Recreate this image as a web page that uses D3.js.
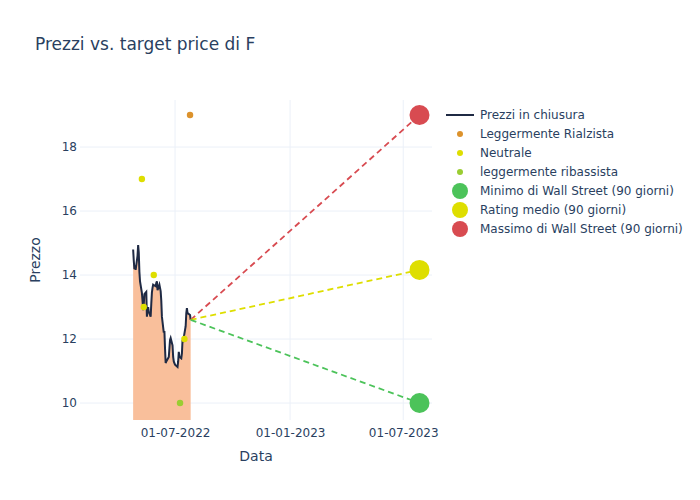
<!DOCTYPE html>
<html lang="it">
  <head>
    <meta charset="utf-8" />
    <style type="text/css">
      body {
        margin: 0;
        background: #fff;
      }
      svg text {
        font-family: "DejaVu Sans", verdana, arial, sans-serif;
        fill: #2a3f5f;
      }
    </style>
  </head>
  <body>
    <svg width="700" height="500"></svg>

    <script src="https://d3js.org/d3.v7.min.js"></script>
    <script type="text/javascript">
      // prezzi di chiusura (stimati dal grafico)
      var priceDates = [
        "2022-04-25", "2022-04-26", "2022-04-27", "2022-04-28", "2022-04-29",
        "2022-05-02", "2022-05-03", "2022-05-04", "2022-05-05", "2022-05-06",
        "2022-05-09", "2022-05-10", "2022-05-11", "2022-05-12", "2022-05-13",
        "2022-05-16", "2022-05-17", "2022-05-18", "2022-05-19", "2022-05-20",
        "2022-05-23", "2022-05-24", "2022-05-25", "2022-05-26", "2022-05-27",
        "2022-05-31", "2022-06-01", "2022-06-02", "2022-06-03", "2022-06-06",
        "2022-06-07", "2022-06-08", "2022-06-09", "2022-06-10", "2022-06-13",
        "2022-06-14", "2022-06-15", "2022-06-16", "2022-06-17", "2022-06-21",
        "2022-06-22", "2022-06-23", "2022-06-24", "2022-06-27", "2022-06-28",
        "2022-06-29", "2022-06-30", "2022-07-01", "2022-07-05", "2022-07-06",
        "2022-07-07", "2022-07-08", "2022-07-11", "2022-07-12", "2022-07-13",
        "2022-07-14", "2022-07-15", "2022-07-18", "2022-07-19", "2022-07-20",
        "2022-07-21", "2022-07-22", "2022-07-25", "2022-07-26"
      ];
      var priceValues = [
        14.80, 14.45, 14.18, 14.30, 14.16,
        14.60, 14.94, 14.70, 14.10, 13.80,
        13.44, 13.20, 12.90, 13.10, 13.40,
        13.47, 12.70, 12.95, 13.00, 12.85,
        12.70, 13.10, 13.45, 13.60, 13.70,
        13.65, 13.75, 13.80, 13.53, 13.70,
        13.60, 13.50, 13.20, 12.70, 12.20,
        12.25, 11.70, 11.25, 11.30, 11.44,
        11.70, 11.97, 12.03, 11.80, 11.44,
        11.30, 11.25, 11.20, 11.13, 11.30,
        11.60, 11.45, 11.40, 11.55, 11.97,
        11.90, 12.05, 12.40, 12.80, 12.97,
        12.80, 12.80, 12.75, 12.60
      ];

      // giudizi degli analisti
      var rialzistaDates = ["2022-07-25"];
      var rialzistaValues = [19];
      var neutraleDates = ["2022-05-09", "2022-05-12", "2022-05-28", "2022-07-16"];
      var neutraleValues = [17, 13, 14, 12];
      var ribassistaDates = ["2022-07-09"];
      var ribassistaValues = [10];

      // target a 90 giorni
      var targetDate = "2023-07-27";
      var targetMin = 10;
      var targetMean = 14.16;
      var targetMax = 19;

      var xTicks = ["2022-07-01", "2023-01-01", "2023-07-01"];
      var yTicks = [10, 12, 14, 16, 18];

      var parse = d3.timeParse("%Y-%m-%d");
      var fmt = d3.timeFormat("%d-%m-%Y");

      var svg = d3.select("svg");
      var margin = { left: 80, top: 100, right: 268, bottom: 80 };
      var W = 700, H = 500;

      var x = d3
        .scaleTime()
        .domain([parse("2022-01-30"), parse("2023-08-16")])
        .range([margin.left, W - margin.right]);
      var y = d3
        .scaleLinear()
        .domain([9.47, 19.47])
        .range([H - margin.bottom, margin.top]);

      var colors = {
        price: "#1f2a44",
        fill: "#f9bf9b",
        rialzista: "#dc922c",
        neutrale: "#dede00",
        ribassista: "#9acd32",
        min: "#4cc35a",
        mean: "#dede00",
        max: "#d84b51"
      };

      svg
        .append("defs")
        .append("clipPath")
        .attr("id", "plot")
        .append("rect")
        .attr("x", margin.left)
        .attr("y", margin.top)
        .attr("width", W - margin.right - margin.left)
        .attr("height", H - margin.bottom - margin.top);

      // griglia
      var grid = svg.append("g");
      grid
        .selectAll(".hgrid")
        .data(yTicks)
        .enter()
        .append("line")
        .attr("x1", margin.left)
        .attr("x2", W - margin.right)
        .attr("y1", (d) => y(d))
        .attr("y2", (d) => y(d))
        .attr("stroke", "#ebf0f8")
        .attr("stroke-width", 1);
      grid
        .selectAll(".vgrid")
        .data(xTicks)
        .enter()
        .append("line")
        .attr("y1", margin.top)
        .attr("y2", H - margin.bottom)
        .attr("x1", (d) => x(parse(d)))
        .attr("x2", (d) => x(parse(d)))
        .attr("stroke", "#ebf0f8")
        .attr("stroke-width", 1);

      // assi
      var xAxis = d3
        .axisBottom(x)
        .tickValues(xTicks.map(parse))
        .tickFormat(fmt)
        .tickSize(0)
        .tickPadding(8);
      var gx = svg
        .append("g")
        .attr("transform", "translate(0," + (H - margin.bottom) + ")")
        .call(xAxis);
      gx.select(".domain").remove();
      gx.selectAll("text").attr("font-size", 12).style("fill", "#2a3f5f");

      var yAxis = d3.axisLeft(y).tickValues(yTicks).tickSize(0).tickPadding(3);
      var gy = svg
        .append("g")
        .attr("transform", "translate(" + margin.left + ",0)")
        .call(yAxis);
      gy.select(".domain").remove();
      gy.selectAll("text").attr("font-size", 12).style("fill", "#2a3f5f");

      var plot = svg.append("g").attr("clip-path", "url(#plot)");

      var prices = priceDates.map((d, i) => ({ date: parse(d), value: priceValues[i] }));

      plot
        .append("path")
        .datum(prices)
        .attr("fill", colors.fill)
        .attr(
          "d",
          d3
            .area()
            .x((d) => x(d.date))
            .y0(y(0))
            .y1((d) => y(d.value))
        );

      plot
        .append("path")
        .datum(prices)
        .attr("fill", "none")
        .attr("stroke", colors.price)
        .attr("stroke-width", 2)
        .attr(
          "d",
          d3
            .line()
            .x((d) => x(d.date))
            .y((d) => y(d.value))
        );

      // linee tratteggiate verso i target
      var last = prices[prices.length - 1];
      var targets = [
        { value: targetMax, color: colors.max },
        { value: targetMean, color: colors.mean },
        { value: targetMin, color: colors.min }
      ];
      plot
        .selectAll(".proj")
        .data(targets)
        .enter()
        .append("line")
        .attr("x1", x(last.date))
        .attr("y1", y(last.value))
        .attr("x2", x(parse(targetDate)))
        .attr("y2", (d) => y(d.value))
        .attr("stroke", (d) => d.color)
        .attr("stroke-width", 1.8)
        .attr("stroke-dasharray", "6,4");

      function dots(dates, values, color) {
        plot
          .append("g")
          .selectAll("circle")
          .data(dates)
          .enter()
          .append("circle")
          .attr("cx", (d) => x(parse(d)))
          .attr("cy", (d, i) => y(values[i]))
          .attr("r", 3.2)
          .attr("fill", color);
      }
      dots(rialzistaDates, rialzistaValues, colors.rialzista);
      dots(neutraleDates, neutraleValues, colors.neutrale);
      dots(ribassistaDates, ribassistaValues, colors.ribassista);

      svg
        .append("g")
        .selectAll("circle")
        .data([
          { value: targetMin, color: colors.min },
          { value: targetMean, color: colors.mean },
          { value: targetMax, color: colors.max }
        ])
        .enter()
        .append("circle")
        .attr("cx", x(parse(targetDate)))
        .attr("cy", (d) => y(d.value))
        .attr("r", 10)
        .attr("fill", (d) => d.color);

      // titoli
      svg
        .append("text")
        .attr("x", 35)
        .attr("y", 50)
        .attr("font-size", 17)
        .text("Prezzi vs. target price di F");
      svg
        .append("text")
        .attr("x", (margin.left + W - margin.right) / 2)
        .attr("y", 461)
        .attr("text-anchor", "middle")
        .attr("font-size", 14)
        .text("Data");
      svg
        .append("text")
        .attr("transform", "translate(40," + (margin.top + H - margin.bottom) / 2 + ") rotate(-90)")
        .attr("text-anchor", "middle")
        .attr("font-size", 14)
        .text("Prezzo");

      // legenda
      var legendItems = [
        { name: "Prezzi in chiusura", type: "line", color: colors.price },
        { name: "Leggermente Rialzista", type: "dot", color: colors.rialzista },
        { name: "Neutrale", type: "dot", color: colors.neutrale },
        { name: "leggermente ribassista", type: "dot", color: colors.ribassista },
        { name: "Minimo di Wall Street (90 giorni)", type: "big", color: colors.min },
        { name: "Rating medio (90 giorni)", type: "big", color: colors.mean },
        { name: "Massimo di Wall Street (90 giorni)", type: "big", color: colors.max }
      ];
      var legend = svg
        .append("g")
        .selectAll("g")
        .data(legendItems)
        .enter()
        .append("g")
        .attr("transform", (d, i) => "translate(446," + (115 + i * 19) + ")");
      legend
        .filter((d) => d.type == "line")
        .append("line")
        .attr("x1", 0)
        .attr("x2", 28)
        .attr("stroke", (d) => d.color)
        .attr("stroke-width", 2);
      legend
        .filter((d) => d.type != "line")
        .append("circle")
        .attr("cx", 14)
        .attr("r", (d) => (d.type == "big" ? 8 : 3))
        .attr("fill", (d) => d.color);
      legend
        .append("text")
        .attr("x", 34)
        .attr("dy", "0.35em")
        .attr("font-size", 12)
        .text((d) => d.name);
    </script>
  </body>
</html>
